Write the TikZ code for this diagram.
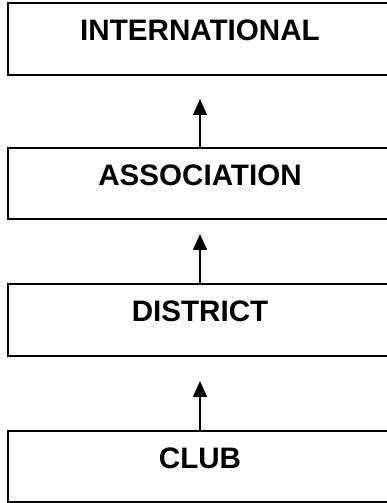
\documentclass[tikz,border=0pt]{standalone}
\usepackage{fontspec}
\setmainfont{Liberation Sans}
\usetikzlibrary{arrows.meta}
\tikzset{
  levelbox/.style={draw=black, line width=1.8pt, rectangle, inner sep=0pt,
    minimum width=384pt, text height=37.5pt, text depth=34pt,
    font=\fontsize{29.6}{34}\selectfont\bfseries},
  uparrow/.style={draw=black, line width=1.5pt, -{Triangle[length=16pt,width=14pt]}}
}
\begin{document}
\begin{tikzpicture}[x=1pt,y=1pt]
\useasboundingbox (0,0) rectangle (387,503);
\clip (0,0) rectangle (387,503);
\node[levelbox] (intl) at (200,464) {INTERNATIONAL};
\node[levelbox] (assoc) at (200,319.5) {ASSOCIATION};
\node[levelbox] (dist) at (200,183) {DISTRICT};
\node[levelbox] (club) at (200,36.5) {CLUB};
\coordinate (t1) at (200,404);
\coordinate (t2) at (200,269);
\coordinate (t3) at (200,122);
\draw[uparrow] (assoc.north) -- (t1);
\draw[uparrow] (dist.north) -- (t2);
\draw[uparrow] (club.north) -- (t3);
\end{tikzpicture}
\end{document}
